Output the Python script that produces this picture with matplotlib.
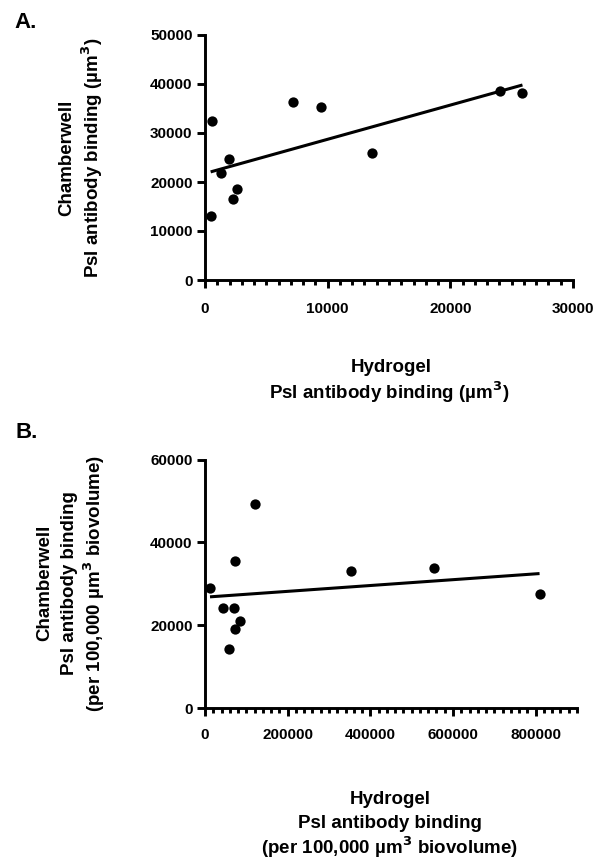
import numpy as np
import matplotlib
matplotlib.use("Agg")
import matplotlib.pyplot as plt
from matplotlib.ticker import MultipleLocator

plt.rcParams['font.family'] = ['Liberation Sans', 'DejaVu Sans']
plt.rcParams['font.weight'] = 'bold'

# Panel A data
a_hydrogel = [460, 600, 1300, 1925, 2250, 2600, 7210, 9460, 13630, 24040, 25880]
a_chamber = [13000, 32440, 21860, 24650, 16530, 18650, 36270, 35300, 25960, 38670, 38180]

# Panel B data
b_hydrogel = [12100, 44300, 69400, 83900, 73300, 58000, 73300, 121700, 353800, 553800, 809400]
b_chamber = [28920, 24090, 24090, 21110, 19010, 14410, 35450, 49160, 33130, 33760, 27470]

a_xticks = [0, 10000, 20000, 30000]
a_yticks = [0, 10000, 20000, 30000, 40000, 50000]
b_xticks = [0, 200000, 400000, 600000, 800000]
b_yticks = [0, 20000, 40000, 60000]

W, H = 597, 859
fig = plt.figure(figsize=(W / 100, H / 100), dpi=100)


def px_axes(left, top, right, bottom):
    return fig.add_axes([left / W, 1 - bottom / H, (right - left) / W, (bottom - top) / H])


def style(ax, xpad):
    for s in ['top', 'right']:
        ax.spines[s].set_visible(False)
    for s in ['left', 'bottom']:
        ax.spines[s].set_linewidth(2.1)
    ax.tick_params(axis='both', which='major', width=2.1, length=6, labelsize=11)
    ax.tick_params(axis='x', which='major', pad=xpad)
    ax.tick_params(axis='y', which='major', pad=3)
    ax.tick_params(axis='x', which='minor', width=2.1, length=3.5)
    for lab in ax.get_xticklabels() + ax.get_yticklabels():
        lab.set_fontweight('bold')


def fitline(ax, x, y):
    x = np.asarray(x, float)
    y = np.asarray(y, float)
    m, c = np.polyfit(x, y, 1)
    xs = np.array([x.min(), x.max()])
    ax.plot(xs, m * xs + c, color='black', lw=2.2, zorder=2, solid_capstyle='butt')


# Panel A
axA = px_axes(205, 35, 573, 280)
axA.scatter(a_hydrogel, a_chamber, s=55, color='black', zorder=3, linewidths=0)
fitline(axA, a_hydrogel, a_chamber)
axA.set_xlim(0, 30000)
axA.set_ylim(0, 50000)
axA.set_xticks(a_xticks)
axA.set_yticks(a_yticks)
axA.xaxis.set_minor_locator(MultipleLocator(1000))
style(axA, 10)

# Panel B
axB = px_axes(205, 459.5, 577, 708.3)
axB.scatter(b_hydrogel, b_chamber, s=55, color='black', zorder=3, linewidths=0)
fitline(axB, b_hydrogel, b_chamber)
axB.set_xlim(0, 900000)
axB.set_ylim(0, 60000)
axB.set_xticks(b_xticks)
axB.set_yticks(b_yticks)
axB.xaxis.set_minor_locator(MultipleLocator(20000))
style(axB, 8)

for ax in (axA, axB):
    for c in ax.collections:
        c.set_clip_on(False)


def ftext(x, y, s, **kw):
    fig.text(x / W, 1 - y / H, s, ha='center', va='center', fontweight='bold', **kw)


LS = 13.5

# Panel letters
ftext(26, 22, 'A.', fontsize=16)
ftext(27, 433, 'B.', fontsize=16)

# Panel A labels
ftext(391, 367, 'Hydrogel', fontsize=LS)
ftext(389, 392, r'Psl antibody binding (µm$^\mathbf{3}$)', fontsize=LS)
ftext(67, 157.5, 'Chamberwell', fontsize=LS, rotation=90)
ftext(92, 157.5, r'Psl antibody binding (µm$^\mathbf{3}$)', fontsize=LS, rotation=90)

# Panel B labels
ftext(390, 800, 'Hydrogel', fontsize=LS)
ftext(390, 824, 'Psl antibody binding', fontsize=LS)
ftext(390, 847, r'(per 100,000 µm$^\mathbf{3}$ biovolume)', fontsize=LS)
ftext(45, 583, 'Chamberwell', fontsize=LS, rotation=90)
ftext(69, 583, 'Psl antibody binding', fontsize=LS, rotation=90)
ftext(94, 583, r'(per 100,000 µm$^\mathbf{3}$ biovolume)', fontsize=LS, rotation=90)

fig.savefig('out.png', dpi=100, facecolor='white')
